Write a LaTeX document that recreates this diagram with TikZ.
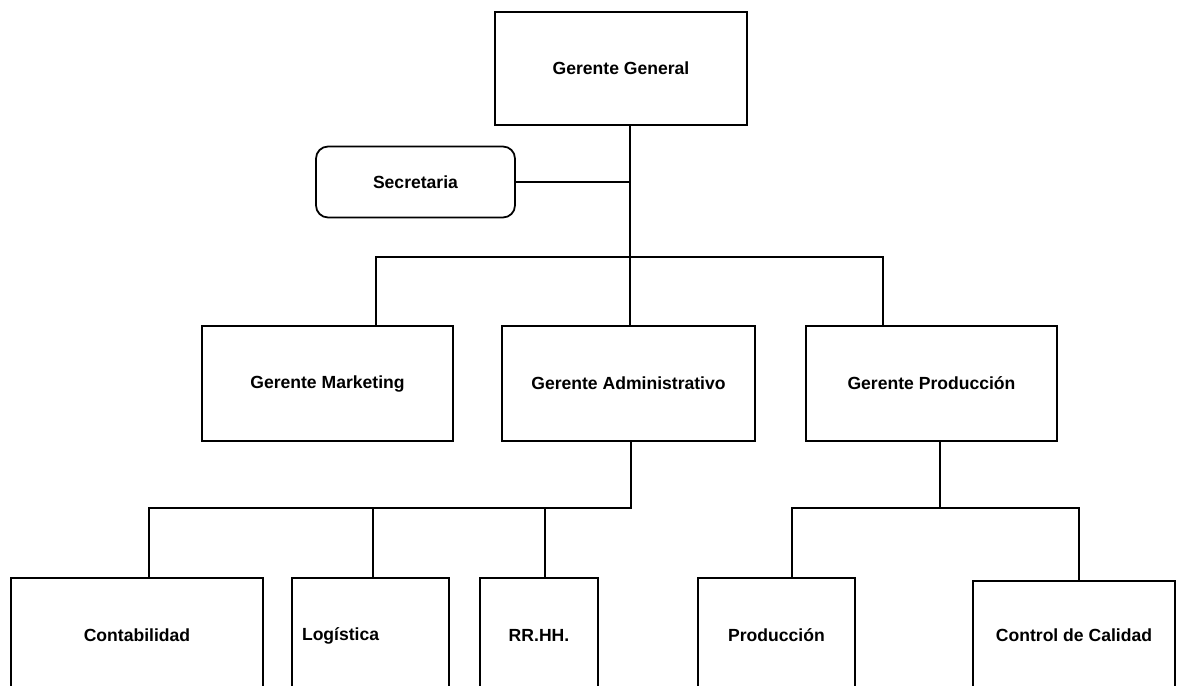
\documentclass[tikz,border=0pt]{standalone}
\usepackage{fontspec}
\setmainfont{Liberation Sans}
\tikzset{
	cargo/.style={draw=black, line width=1pt, inner sep=0pt, font=\fontsize{10}{12}\selectfont\bfseries},
	enlace/.style={draw=black, line width=1pt}
}
\begin{document}
\begin{tikzpicture}[x=0.02cm, y=-0.02cm]
	\useasboundingbox (0,0) rectangle (1184,686);
	\clip (0,0) rectangle (1184,686);
	% cargos
	\node[cargo, minimum width=5.04cm, minimum height=2.26cm] (gg) at (621,68.5) {Gerente General};
	\node[cargo, rounded corners=0.24cm, minimum width=3.98cm, minimum height=1.42cm] (sec) at (415.5,182) {Secretaria};
	\node[cargo, minimum width=5.02cm, minimum height=2.30cm] (gm) at (327.5,383.5) {Gerente Marketing};
	\node[cargo, minimum width=5.06cm, minimum height=2.30cm] (ga) at (628.5,383.5) {Gerente Administrativo};
	\node[cargo, minimum width=5.02cm, minimum height=2.30cm] (gp) at (931.5,383.5) {Gerente Producción};
	\node[cargo, minimum width=5.04cm, minimum height=2.30cm] (con) at (137,635.5) {Contabilidad};
	\node[cargo, minimum width=3.14cm, minimum height=2.30cm, text width=2.74cm, align=left] (log) at (370.5,635.5) {Logística};
	\node[cargo, minimum width=2.36cm, minimum height=2.30cm] (rh) at (539,635.5) {RR.HH.};
	\node[cargo, minimum width=3.14cm, minimum height=2.30cm] (pro) at (776.5,635.5) {Producción};
	\node[cargo, minimum width=4.04cm, minimum height=2.18cm] (cc) at (1074,635.5) {Control de Calidad};
	% puntos de enlace
	\coordinate (t) at (630,257);
	\coordinate (b1) at (376,257);
	\coordinate (b3) at (883,257);
	\coordinate (a0) at (631,508);
	\coordinate (a1) at (149,508);
	\coordinate (a2) at (373,508);
	\coordinate (a3) at (545,508);
	\coordinate (p0) at (940,508);
	\coordinate (p1) at (792,508);
	\coordinate (p2) at (1079,508);
	% enlaces
	\draw[enlace] (gg.south -| t) -- (ga.north -| t);
	\draw[enlace] (sec.east) -- (sec.east -| t);
	\draw[enlace] (gm.north -| b1) -- (b1) -- (b3) -- (gp.north -| b3);
	\draw[enlace] (ga.south -| a0) -- (a0) -- (a1) -- (con.north -| a1);
	\draw[enlace] (a2) -- (log.north -| a2);
	\draw[enlace] (a3) -- (rh.north -| a3);
	\draw[enlace] (gp.south -| p0) -- (p0);
	\draw[enlace] (pro.north -| p1) -- (p1) -- (p2) -- (cc.north -| p2);
\end{tikzpicture}
\end{document}
